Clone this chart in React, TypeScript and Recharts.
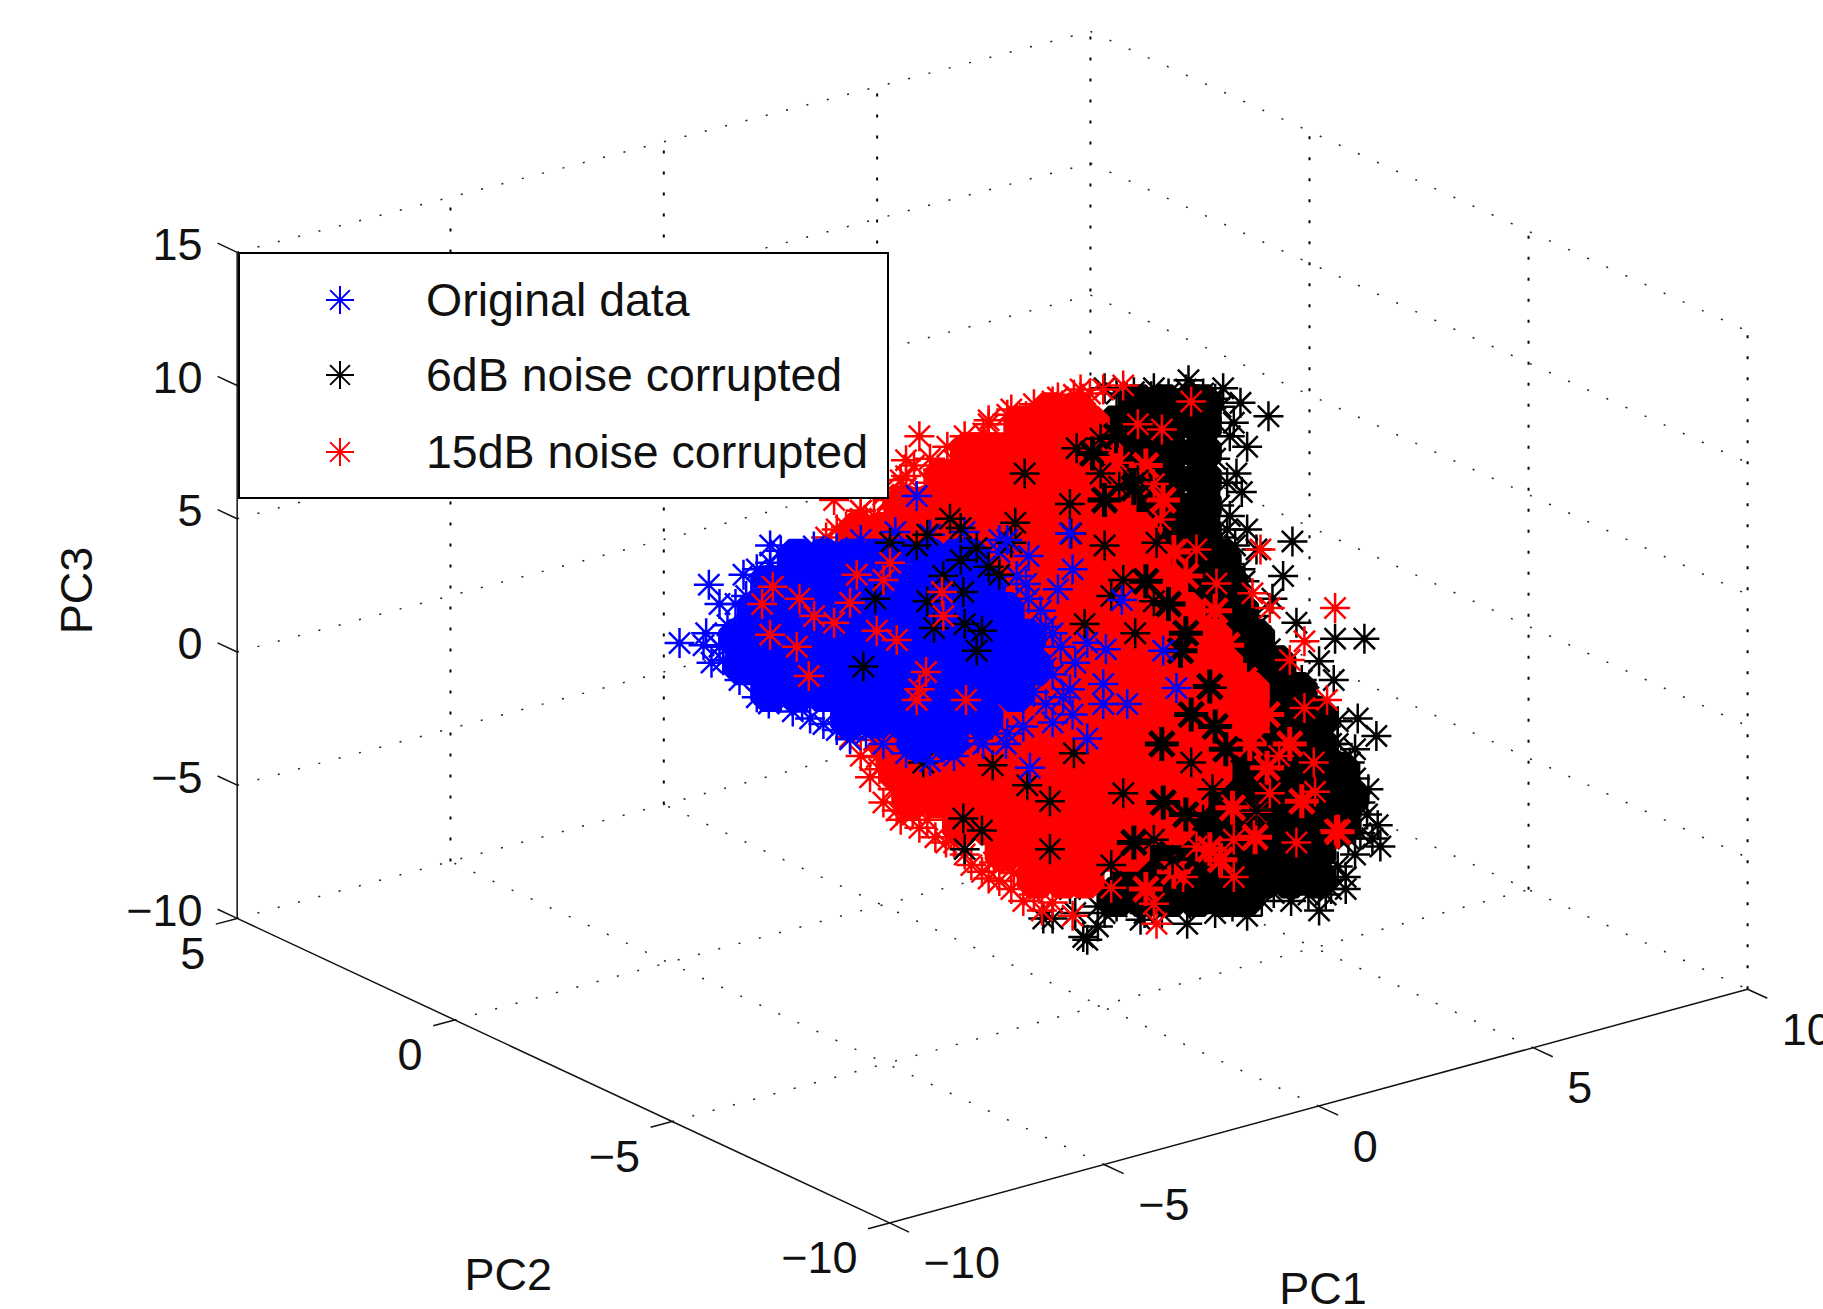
// App.tsx
// 3-D PCA scatter (PC1/PC2/PC3) flattened onto a view plane for Recharts

import { ScatterChart, Scatter, XAxis, YAxis, ReferenceLine, Legend } from 'recharts'

const pc1Ticks = [-10, -5, 0, 5, 10]
const pc2Ticks = [5, 0, -5, -10]
const pc3Ticks = [15, 10, 5, 0, -5, -10]
const seriesNames = ['Original data', '6dB noise corrupted', '15dB noise corrupted']

// The cloud is read off the picture, so its values are view-plane readings [h, v]:
// v is measured on the PC3 scale of the left wall, h in the same unit from that wall.
// Core rows stand for the saturated parts of the cloud: [v, [h, h, ...]]
type Row = [number, number[]]

const blackCore: Row[] = [
  [9.3, [33.8, 34.8, 35.8, 36.2]],
  [8.5, [33, 34, 35, 36.2]],
  [7.5, [33, 34, 35, 36.2]],
  [6.5, [33, 34, 35, 36.2]],
  [5.5, [33, 34, 35, 36.2]],
  [4.5, [33.7, 34.7, 35.7, 36.2]],
  [3.5, [35.2, 36.2, 36.9]],
  [2.5, [36, 37, 37.2]],
  [1.5, [37, 37.6]],
  [0.5, [37, 38.2]],
  [-0.5, [37.5, 38.5, 39]],
  [-1.5, [38, 39, 39.8]],
  [-2.5, [38, 39, 40, 40.6]],
  [-3.5, [38, 39, 40, 40.5]],
  [-4.5, [37, 38, 39, 40, 41, 41.4]],
  [-5.5, [36, 37, 38, 39, 40, 41, 41.7]],
  [-6.5, [35.5, 36.5, 37.5, 38.5, 39.5, 40.5, 41.4]],
  [-7.5, [34, 35, 36, 37, 38, 39, 40, 40.5]],
  [-8.5, [33.5, 34.5, 35.5, 36.5, 37.5, 38.5, 39.5, 40.5]],
  [-9.2, [33, 34, 35, 36, 37, 37.8]],
]

const redCore: Row[] = [
  [9, [30.5, 31.5]],
  [8.5, [29.5, 30.5, 31.5, 32]],
  [7.5, [27.5, 28.5, 29.5, 30.5, 31.5, 32.5]],
  [6.5, [26.5, 27.5, 28.5, 29.5, 30.5, 31.5, 32.5]],
  [5.5, [25, 26, 27, 28, 29, 30, 31, 32, 33]],
  [4.5, [23.3, 24.3, 25.3, 26.3, 27.3, 28.3, 29.3, 30.3, 31.3, 32.3, 33.3, 33.8]],
  [3.5, [22.8, 23.8, 24.8, 25.8, 26.8, 27.8, 28.8, 29.8, 30.8, 31.8, 32.8, 33.8, 34.3]],
  [2.5, [24, 25, 26, 27, 28, 29, 30, 31, 32, 33, 34, 34.8]],
  [1.5, [27, 28, 29, 30, 31, 32, 33, 34, 35, 35.6]],
  [0.5, [28, 29, 30, 31, 32, 33, 34, 35, 36, 36.6]],
  [-0.5, [29, 30, 31, 32, 33, 34, 35, 36, 37]],
  [-1.5, [29.5, 30.5, 31.5, 32.5, 33.5, 34.5, 35.5, 36.5, 37.5, 38]],
  [-2.5, [24.5, 25.5, 26.5, 27.5, 28.5, 29.5, 30.5, 31.5, 32.5, 33.5, 34.5, 35.5, 36.5, 37.5, 38]],
  [-3.5, [24.5, 25.5, 26.5, 27.5, 28.5, 29.5, 30.5, 31.5, 32.5, 33.5, 34.5, 35.5, 36.5, 36.8]],
  [-4.5, [24.8, 25.8, 26.8, 27.8, 28.8, 29.8, 30.8, 31.8, 32.8, 33.8, 34.8, 35.8, 36.6]],
  [-5.5, [25.3, 26.3, 27.3, 28.3, 29.3, 30.3, 31.3, 32.3, 33.3, 34.3, 35.3, 35.7]],
  [-6.5, [27.2, 28.2, 29.2, 30.2, 31.2, 32.2, 33.2, 34.2, 35.2]],
  [-7.5, [28.8, 29.8, 30.8, 31.8, 32.8, 33.5]],
  [-8.5, [30, 31, 31.8]],
]

const blueCore: Row[] = [
  [3.5, [21, 22, 23, 24, 25, 26, 27, 27.5]],
  [2.5, [20, 21, 22, 23, 24, 25, 26, 27, 28.1]],
  [1.5, [19.5, 20.5, 21.5, 22.5, 23.5, 24.5, 25.5, 26.5, 27.5, 28.8]],
  [0.5, [18.8, 19.8, 20.8, 21.8, 22.8, 23.8, 24.8, 25.8, 26.8, 27.8, 28.8, 29.6]],
  [-0.5, [19, 20, 21, 22, 23, 24, 25, 26, 27, 28, 29, 29.8]],
  [-1.5, [20, 21, 22, 23, 24, 25, 26, 27, 28, 29.2]],
  [-2.5, [23, 24, 25, 26, 27, 28]],
  [-3.3, [25.5, 26.7]],
]

const blackEdge = [
  [38.7, 8.85], [37.65, 9.35], [37, 9.9], [35.7, 10.2], [32.55, 9.9], [34.4, 9.9], [37.9, 7.7], [37.7, 6], [37.9, 4.6],
  [39.6, 4.15], [38.25, 3.85], [39.25, 2.85], [38.85, 2], [39.75, 1.1], [41.2, 0.5], [42.3, 0.5], [38.75, 0.1],
  [37.5, 6.7], [37.4, 8.6], [37.25, 5.1], [36.85, 4.3], [37.65, 3.1], [37.75, 0.95], [38.25, 0.95], [40.6, -0.35],
  [41.15, -1.05], [42.05, -2.5], [42.75, -3.15], [41.75, -4.15], [42.45, -5.15], [42.9, -7.3], [42.15, -6.8],
  [41.6, -8.45], [41.6, -8.9], [40.75, -7.9], [39.9, -8.55], [40.6, -9.7], [38.9, -9.05], [37.9, -9.9], [35.75, -9.45],
  [33.9, -10.05], [35.65, -10.2], [31.75, -10.7], [32.3, -10.3], [30.25, -10], [31.9, -10.8], [32.55, -9.8], [31.25, -8.9],
  [39.1, -1.7], [39.95, -1.05], [40.85, -2.8], [41.3, -3.45], [41.5, -5.2], [42.15, -5.65], [40.85, -9.1], [39.55, -9.35],
  [36.9, -9.35], [34.7, -9.8],
  [36.9, 9.2], [37.25, 8.1], [36.7, 7.25], [37.15, 6.35], [36.85, 5.5], [37.15, 4.6], [37.45, 4], [37.25, 3.3], [37.8, 2.65],
  [37.5, 1.8], [38.2, 1.35], [38, 0.5], [38.65, -0.2], [39.1, -0.85], [39.5, -1.3], [40.2, -1.7], [40.6, -2.2], [41.3, -2.6],
  [41.05, -3.45], [41.95, -3.65], [41.3, -4.55], [41.95, -4.75], [41.7, -5.6], [42.4, -6.1], [41.95, -7.6], [41.3, -8.05],
  [41.05, -8.9], [40.2, -9.1], [39.5, -8.7], [38.45, -9.35], [37.35, -9.55], [36.7, -9.8], [34.7, -9.1], [34.05, -9.8],
  [33, -9.55], [32.3, -9.55], [31.45, -9.8], [30.6, -10], [40.4, -8.25], [42.8, -6.5], [42.6, -7], [41.7, -7],
  [33, 9.7], [33.65, 9.75], [34.3, 9.6], [34.95, 9.7], [35.6, 9.85], [36.25, 9.7], [36.7, 9.5],
]

const redEdge = [
  [25.6, 8.1], [25.1, 7.2], [25.4, 7], [22.4, 5.7], [23.4, 5], [28.9, 8.9], [29.6, 8.85], [22.25, 3.83], [24.9, 6.45],
  [26.3, 6.85], [27.35, 7.7], [28, 8.2], [30.1, 8.85], [30.76, 9.2], [24.4, 5.7], [23.9, 5.1], [22.85, 4.7], [22.1, 4.3],
  [31.4, 9.65], [32, 9.7], [33.25, 10], [23, -3.2], [23.9, -3.3], [24, -3.95], [24.1, -4.4], [24.6, -5.15], [24.75, -5.95],
  [25.9, -6.3], [26.6, -7.15], [28.4, -7.9], [29.05, -8.9], [30.2, -9.7], [25.25, -5.6], [25.6, -6.6], [27.3, -7.6],
  [27.95, -8.25], [28.6, -8.6], [29.15, -8.3], [30.6, -9.4], [31.35, -9.9], [32.8, -8.85], [34.4, -9.45], [34.5, -10.2],
  [26.9, 7.2], [28.2, 8.55], [26, 6.35], [25.1, 6.15], [23.4, 5.3], [24.3, 6.15], [30.6, 9.4],
  [22.5, 4.6], [23.4, 5.3], [24.25, 5.9], [25.1, 6.6], [26, 7.25], [26.65, 7.7], [27.3, 8.1], [28.2, 8.7], [29.05, 9.1],
  [29.9, 9.3], [30.8, 9.55], [31.65, 9.85], [32.5, 9.85],
  [23.4, -3.9], [23.75, -4.7], [24.25, -5.65], [24.9, -6.3], [25.35, -6.1], [26.2, -6.95], [26.9, -7.15], [27.55, -8],
  [28.2, -8.5], [29.5, -9.35], [29.9, -9.1],
]

const redOnBlack = [
  [35.8, 9.4], [33.8, 8.55], [34.7, 8.35], [33.1, 7.1], [34.4, 6.3], [34.65, 4.97], [36.75, 2.57], [36, 3.85], [38.4, 3.85],
  [41.2, 1.65], [40.05, 0.4], [38.1, 2.2], [38.75, 1.65], [40.9, -1.8], [40.05, -2.1], [40.4, -4.15], [40.45, -5.25],
  [41.2, -6.7], [39.75, -7.15], [37.4, -7.05], [37.4, -8.45], [39.5, -0.3], [37.45, -1.25], [38.25, -6], [38.75, -5.3],
  [36, -7.3], [35.5, -8.45], [38.2, -3], [39.1, -3.9],
]

// heavier patches where red and black are mixed
const redMixed = [
  [34.1, 7], [34.75, 5.7], [34.1, 4.6], [35.15, 3.75], [35.6, 2.85], [36.7, 1.55], [37.15, 0.25], [37.8, -1.05], [38.65, -2.35],
  [38, -3.45], [38.65, -4.35], [37.35, -5.85], [36.5, -7.4], [35.15, -8.25], [34.1, -8.9], [39.5, -3.45], [39.95, -5.6],
  [38.2, -6.95], [41.3, -6.75], [36.9, -7.8],
]
const blackMixed = [
  [32.1, 7.45], [33, 8.1], [33.65, 6.15], [32.55, 5.7], [34.1, 2.65], [34.95, 1.8], [35.6, 0.7], [36.5, -1.3], [36.7, -2.8],
  [34.75, -5.65], [33.65, -7.15], [35.6, -6.1], [34.7, -3.45], [37.1, -3.65], [35.8, -2.35], [35.4, 0.05],
]

const blackOnRed = [
  [31.5, 7.65], [31.25, 5.55], [31.3, 4.45], [32.55, 4], [34.5, 4.1], [33.25, 2.7], [32.8, 2.1], [34.4, 1.9], [31.8, 1.05],
  [33.7, 0.7], [33.1, 6.2], [33.8, 6.45], [32.4, 6.7], [32.4, 8], [29.55, 6.7], [31.4, -3.8], [30.5, -5.6], [33.25, -5.3],
  [30.5, -7.4], [34.4, -7.05], [35.8, -4.15], [32.8, -8], [36.6, -5.15], [36.25, -6.3], [35.1, -7.8], [38.25, -5.95],
  [25.75, -4.15], [28.35, -4.25], [29.65, -5], [27.25, -6.25], [27.95, -6.7], [27.3, -7.4],
]

const blueEdge = [
  [16.6, 0.34], [17.7, 2.52], [18.1, 1.8], [18.1, 0.2], [19.1, 2.1], [20.4, 3.8], [20, 3.35], [21.2, 3.6], [19.95, -1.93],
  [18.85, -1.05], [18.24, -0.31], [20.85, -2.23], [21.5, -2.5], [22.5, -2.93], [23, -3.28], [23.6, -3.06], [27.8, -3.24],
  [28.9, -3.06], [21.64, 3.96], [22.5, 3.9], [19.5, 3.1], [18.7, 1.8], [17.6, 0.7], [17.8, -0.4], [17.5, 0.25], [18.4, 1],
  [19, 2.9], [19.5, -1.7], [20.4, -1.7], [21.2, -2], [22, -2.7], [24.25, -3.45], [25.1, -3.8], [26, -4.1], [26.9, -3.9],
  [20, 4], [23.4, 4.2], [24.7, 4.5], [26, 4.4], [27.3, 4.5], [28.6, 4.2], [29.7, 3.6],
  [29.5, 0.05], [30.35, -0.6], [29.9, -1.5], [31, -1.7], [30.6, -2.65], [29.5, -2.8], [30.6, 0.7], [30.15, 1.55], [29.7, 2],
  [29.25, 2.85], [28.6, 3.75], [28, -3.45], [28.85, -3.45],
]

const blackOnBlue = [
  [23.95, 2], [25.9, 1.9], [24.5, 4.1], [25.5, 4], [25.9, 4.4], [26.75, 5], [27.15, 4.65], [27.75, 3.9], [27.15, 3.45],
  [26.5, 2.85], [27.25, 2.25], [28.6, 2.9], [28.2, 3.2], [29.05, 4.1], [29.2, 4.85], [26.15, 0.9], [27.3, 1.05], [27.95, 0.8],
  [27.75, 0.05], [23.5, -0.55],
]

const redOnBlue = [
  [20.1, 2.45], [19.7, 1.8], [21.1, 2], [23.25, 2.9], [24.25, 2.7], [24.5, 3.35], [26.45, 2.25], [26.5, 1.35], [23, 1.85],
  [21.65, 1.35], [22.4, 1.1], [24, 0.8], [24.75, 0.45], [20, 0.65], [21, 0.2], [21.45, -0.9], [25.85, -0.75], [25.6, -1.4],
  [25.5, -1.8], [27.35, -1.8],
]

const blueOnRed = [
  [25.5, 5.85], [28.9, 4.2], [29.6, 2.55], [31.35, 3.1], [30.8, 2.35], [33.2, 1.95], [31.25, 4.45], [32.6, 0.1], [31.9, 0.35],
  [30.9, 0.2], [30.35, 0.95], [34.75, 0.05], [35.25, -1.35], [33.4, -1.95], [31.35, -2.35], [32.5, -1.95], [31.25, -1.4],
  [31.9, -3.25], [30.35, -1.95], [32.5, -1.2], [29.75, -4.35], [30.6, -0.85], [31.45, -0.4],
]

const BLUE = '#0000ff'
const RED = '#ff0000'
const BLACK = '#000000'
const FONT = '"Liberation Sans", Arial, sans-serif'

// floor corners and wall heights of the MATLAB box, in view units
const corner = { a: [0, -10], b: [24.48, -21.43], c: [56.68, -12.66], d: [32.02, -1.45] }
const wallHeight = { a: 25, b: 25, c: 24.7, d: 24.74 }

function project(pc1: number, pc2: number, pc3: number) {
  const s = (pc1 + 10) / 20
  const t = (pc2 + 10) / 15
  const mix = (a: number, b: number, c: number, d: number) =>
    (1 - s) * (1 - t) * b + s * (1 - t) * c + (1 - s) * t * a + s * t * d
  const h = mix(wallHeight.a, wallHeight.b, wallHeight.c, wallHeight.d)
  return {
    x: mix(corner.a[0], corner.b[0], corner.c[0], corner.d[0]),
    y: mix(corner.a[1], corner.b[1], corner.c[1], corner.d[1]) + ((pc3 + 10) / 25) * h,
  }
}

const toPoints = (list: number[][]) => list.map(([x, y]) => ({ x, y }))
const rowsToPoints = (rows: Row[]) => rows.flatMap(([y, xs]) => xs.map((x) => ({ x, y })))

function star(cx: number, cy: number, r: number, color: string, width: number) {
  const d = r * 0.7071
  return (
    <path
      d={`M${cx - r} ${cy}H${cx + r}M${cx} ${cy - r}V${cy + r}M${cx - d} ${cy - d}L${cx + d} ${cy + d}M${cx - d} ${cy + d}L${cx + d} ${cy - d}`}
      stroke={color}
      strokeWidth={width}
      fill="none"
    />
  )
}

const thinStar = (color: string) => (p: any) => star(p.cx, p.cy, 15, color, 2.5)
const mixedStar = (color: string) => (p: any) => star(p.cx, p.cy, 17, color, 5)
const coreStar = (color: string) => (p: any) => star(p.cx, p.cy, 20, color, 16)

const dotted = { stroke: '#222', strokeWidth: 1.5, strokeDasharray: '2 19' }
const dottedV = { stroke: '#000', strokeWidth: 2, strokeDasharray: '3 18' }
const solid = { stroke: '#111', strokeWidth: 1.5 }

function seg(key: string, from: number[], to: number[], style: any) {
  const a = project(from[0], from[1], from[2])
  const b = project(to[0], to[1], to[2])
  return <ReferenceLine key={key} segment={[a, b]} ifOverflow="visible" {...style} />
}

function boxLines() {
  const out: any[] = []
  pc1Ticks.slice(1).forEach((v) => {
    out.push(seg(`v1${v}`, [v, 5, -10], [v, 5, 15], dottedV))
  })
  pc2Ticks.slice(1).forEach((v) => {
    out.push(seg(`v2${v}`, [10, v, -10], [10, v, 15], dottedV))
  })
  pc3Ticks.forEach((v) => {
    out.push(seg(`w1${v}`, [-10, 5, v], [10, 5, v], dotted))
    out.push(seg(`w2${v}`, [10, 5, v], [10, -10, v], dotted))
  })
  pc1Ticks.slice(1, -1).forEach((v) => {
    out.push(seg(`f1${v}`, [v, -10, -10], [v, 5, -10], dotted))
  })
  pc2Ticks.slice(1, -1).forEach((v) => {
    out.push(seg(`f2${v}`, [-10, v, -10], [10, v, -10], dotted))
  })
  // solid axes and their small ticks
  out.push(seg('zAxis', [-10, 5, -10], [-10, 5, 15], solid))
  out.push(seg('yAxis', [-10, 5, -10], [-10, -10, -10], solid))
  out.push(seg('xAxis', [-10, -10, -10], [10, -10, -10], solid))
  pc3Ticks.forEach((v) => out.push(seg(`zt${v}`, [-10, 5, v], [-10, 5.45, v], solid)))
  pc2Ticks.forEach((v) => out.push(seg(`yt${v}`, [-10, v, -10], [-10.5, v, -10], solid)))
  pc1Ticks.forEach((v) => out.push(seg(`xt${v}`, [v, -10, -10], [v, -10.45, -10], solid)))
  return out
}

const minus = (v: number) => String(v).replace('-', '\u2212')

const tickLabels = [
  ...pc3Ticks.map((v) => {
    const p = project(-10, 5, v)
    return { x: p.x - 1.3, y: p.y + 0.3, text: minus(v), anchor: 'end' }
  }),
  ...pc2Ticks.map((v) => {
    const p = project(-10, v, -10)
    return { x: p.x - 1.2, y: p.y - 1.3, text: minus(v), anchor: 'end' }
  }),
  ...pc1Ticks.map((v) => {
    const p = project(v, -10, -10)
    return { x: p.x + 1.28, y: p.y - 1.5, text: minus(v), anchor: 'start' }
  }),
]

const axisTitles = [
  { x: 10.17, y: -23.35, text: 'PC2', anchor: 'middle', rotate: false },
  { x: 40.75, y: -23.9, text: 'PC1', anchor: 'middle', rotate: false },
  { x: -6.02, y: 2.31, text: 'PC3', anchor: 'middle', rotate: true },
]

const labelShape = (p: any) => (
  <text
    x={p.cx}
    y={p.cy}
    textAnchor={p.anchor}
    dominantBaseline="central"
    fontFamily={FONT}
    fontSize={45}
    fill="#111"
    transform={p.rotate ? `rotate(-90 ${p.cx} ${p.cy})` : undefined}
  >
    {p.text}
  </text>
)

function LegendBox() {
  const rows = [BLUE, BLACK, RED]
  return (
    <div style={{ position: 'relative', width: 647, height: 243, border: '2px solid #000', background: '#fff', fontFamily: FONT, fontSize: 46.5, color: '#111' }}>
      {seriesNames.map((name, i) => (
        <div key={name} style={{ position: 'absolute', left: 0, top: [11, 86, 163][i], height: 70, lineHeight: '70px' }}>
          <svg width={40} height={40} style={{ position: 'absolute', left: 80, top: 15 }}>
            {star(20, 20, 14, rows[i], 2)}
          </svg>
          <span style={{ position: 'absolute', left: 186, whiteSpace: 'nowrap' }}>{name}</span>
        </div>
      ))}
    </div>
  )
}

export default function App() {
  return (
    <div style={{ position: 'absolute', left: 0, top: 0, background: '#fff' }}>
      <ScatterChart width={1823} height={1309} margin={{ top: 0, right: 0, bottom: 0, left: 0 }}>
        <XAxis type="number" dataKey="x" hide domain={[-8.9, 59.51]} allowDataOverflow />
        <YAxis type="number" dataKey="y" hide domain={[-24.66, 24.47]} allowDataOverflow />
        {boxLines()}
        <Scatter data={toPoints(blackEdge)} shape={thinStar(BLACK)} isAnimationActive={false} />
        <Scatter data={rowsToPoints(blackCore)} shape={coreStar(BLACK)} isAnimationActive={false} />
        <Scatter data={toPoints(redEdge)} shape={thinStar(RED)} isAnimationActive={false} />
        <Scatter data={rowsToPoints(redCore)} shape={coreStar(RED)} isAnimationActive={false} />
        <Scatter data={toPoints(redMixed)} shape={mixedStar(RED)} isAnimationActive={false} />
        <Scatter data={toPoints(blackMixed)} shape={mixedStar(BLACK)} isAnimationActive={false} />
        <Scatter data={toPoints(redOnBlack)} shape={thinStar(RED)} isAnimationActive={false} />
        <Scatter data={toPoints(blackOnRed)} shape={thinStar(BLACK)} isAnimationActive={false} />
        <Scatter data={toPoints(blueEdge)} shape={thinStar(BLUE)} isAnimationActive={false} />
        <Scatter data={rowsToPoints(blueCore)} shape={coreStar(BLUE)} isAnimationActive={false} />
        <Scatter data={toPoints(blackOnBlue)} shape={thinStar(BLACK)} isAnimationActive={false} />
        <Scatter data={toPoints(redOnBlue)} shape={thinStar(RED)} isAnimationActive={false} />
        <Scatter data={toPoints(blueOnRed)} shape={thinStar(BLUE)} isAnimationActive={false} />
        <Scatter data={[...tickLabels, ...axisTitles]} shape={labelShape} isAnimationActive={false} />
        <Legend
          layout="horizontal"
          verticalAlign="middle"
          content={() => <LegendBox />}
          wrapperStyle={{ position: 'absolute', left: 238, top: 252, width: 651, height: 247, bottom: 'auto' }}
        />
      </ScatterChart>
    </div>
  )
}
